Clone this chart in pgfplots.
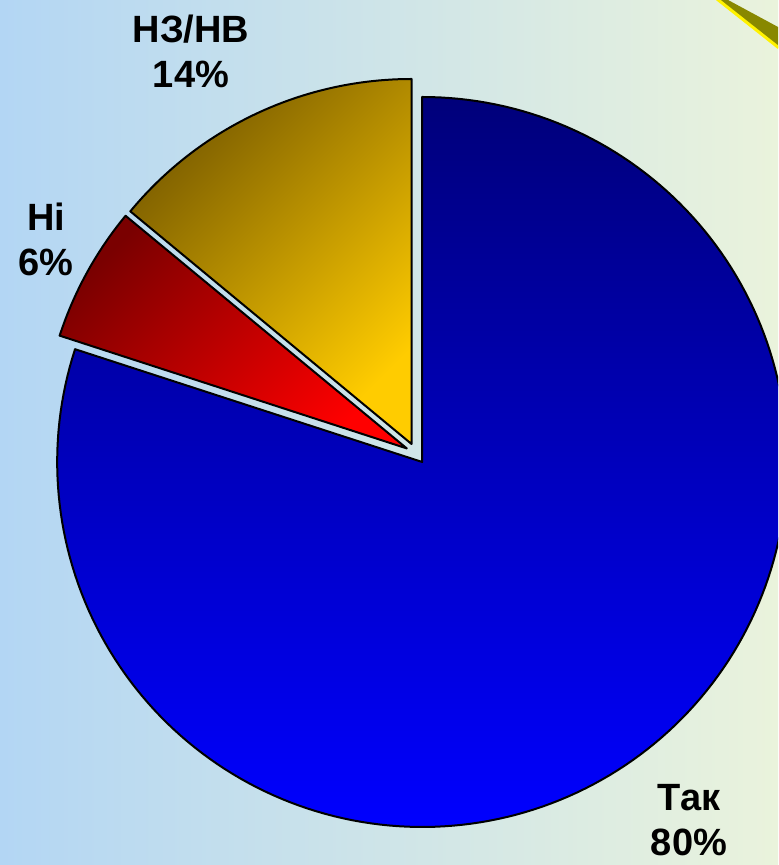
\documentclass[border=0pt]{standalone}
\usepackage{pgfplots}
\pgfplotsset{compat=1.18}
\usepackage{pgfplotstable}
\usepackage{fontspec}
\setmainfont{Liberation Sans}

\pgfplotstableread{
label value
Tak 80
Ni 6
NZNV 14
}\piedata

\definecolor{bgL}{RGB}{179,214,244}
\definecolor{bgR}{RGB}{234,243,220}
\definecolor{blueTop}{RGB}{0,0,122}
\definecolor{blueBot}{RGB}{0,0,255}
\definecolor{redDark}{RGB}{122,0,0}
\definecolor{redLight}{RGB}{255,0,0}
\definecolor{goldDark}{RGB}{122,92,0}
\definecolor{goldLight}{RGB}{255,204,0}
\definecolor{olive}{RGB}{136,136,0}

\newcommand{\pieslice}[4]{% #1 from, #2 to (deg), #3 samples, #4 style
  \pgfmathsetmacro{\pmid}{(#1+#2)/2}%
  \pgfmathsetmacro{\ox}{\cx+\dexp*cos(\pmid)}%
  \pgfmathsetmacro{\oy}{\cy+\dexp*sin(\pmid)}%
  \edef\temp{\noexpand\addplot[#4, no markers, line width=1pt, draw=black, line join=round, domain=#1:#2, samples=#3] ({\ox+\R*cos(x)},{\oy+\R*sin(x)}) -- (axis cs:\ox,\oy) -- cycle;}%
  \temp
}

\begin{document}
\begin{tikzpicture}
\pgfplotstablegetelem{0}{value}\of\piedata\let\vA\pgfplotsretval
\pgfplotstablegetelem{1}{value}\of\piedata\let\vB\pgfplotsretval
\pgfplotstablegetelem{2}{value}\of\piedata\let\vC\pgfplotsretval
\pgfmathsetmacro{\sA}{90}
\pgfmathsetmacro{\eA}{\sA-3.6*\vA}
\pgfmathsetmacro{\eB}{\eA-3.6*\vB}
\pgfmathsetmacro{\eC}{\eB-3.6*\vC}
\def\cx{416}\def\cy{411.5}\def\R{365}\def\dexp{10.5}

\shade[left color=bgL, right color=bgR] (0,0) rectangle (389pt,432.5pt);

\begin{axis}[width=389pt, height=432.5pt, scale only axis,
  xmin=0, xmax=778, ymin=0, ymax=865, hide axis, clip=true]
  \pieslice{\eA}{\sA}{200}{top color=blueTop, bottom color=blueBot}
  \pieslice{\eB}{\eA}{30}{shading=axis, top color=redDark, bottom color=redLight, shading angle=45}
  \pieslice{\eC}{\eB}{50}{shading=axis, top color=goldDark, bottom color=goldLight, shading angle=45}
\end{axis}

\begin{scope}
  \clip (0,0) rectangle (389pt,432.5pt);
  \fill[olive] (358.5pt,432.5pt) -- (364pt,432.5pt) -- (389pt,419pt) -- (389pt,408.5pt) -- cycle;
  \draw[yellow, line width=1.5pt] (358.5pt,433pt) -- (389.5pt,408.5pt);
\end{scope}

\begin{scope}[every node/.style={align=center, font=\bfseries\fontsize{19}{22.5}\selectfont, inner sep=0pt}]
  \node at (95.5pt, 407pt) {НЗ/НВ\\14\%};
  \node at (23pt, 313pt) {Ні\\6\%};
  \node at (344.5pt, 22.5pt) {Так\\80\%};
\end{scope}
\end{tikzpicture}
\end{document}
